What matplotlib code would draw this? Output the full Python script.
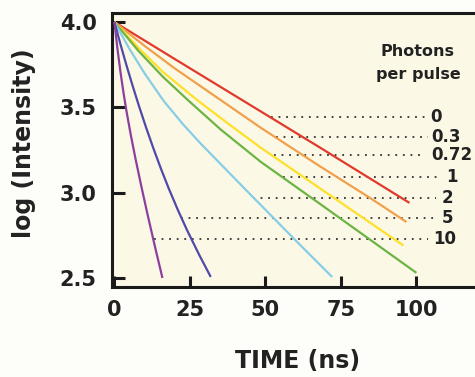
import matplotlib
matplotlib.use("Agg")
import matplotlib.pyplot as plt

# ---- data ----
photons = ["0", "0.3", "0.72", "1", "2", "5", "10"]
colors = ["#e03a2c", "#f0a04a", "#fde02a", "#6cb443", "#86cde6", "#4f4aa8", "#8e3f9e"]

t_0 = [0, 20, 43, 68, 97.7]
y_0 = [4.0, 3.783, 3.535, 3.265, 2.94]
t_03 = [0, 10, 20, 35, 48.5, 68, 85, 96.7]
y_03 = [4.0, 3.86, 3.728, 3.545, 3.38, 3.155, 2.965, 2.828]
t_072 = [0, 8, 16, 27.6, 38, 48.5, 68, 85, 95.7]
y_072 = [4.0, 3.848, 3.708, 3.54, 3.40, 3.263, 3.026, 2.82, 2.69]
t_1 = [0, 8, 16, 24.3, 35.2, 48.5, 68.4, 85, 100]
y_1 = [4.0, 3.83, 3.68, 3.543, 3.37, 3.18, 2.93, 2.72, 2.53]
t_2 = [0, 5, 10, 16.3, 22.6, 28.6, 45.2, 60, 72.1]
y_2 = [4.0, 3.842, 3.699, 3.538, 3.403, 3.287, 2.986, 2.72, 2.506]
t_5 = [0, 2, 4, 6, 8, 10.5, 13, 15.5, 18, 21, 24, 28, 31.9]
y_5 = [4.0, 3.870, 3.746, 3.628, 3.515, 3.381, 3.255, 3.136, 3.024, 2.899,
       2.782, 2.638, 2.506]
t_10 = [0, 1, 2, 3, 4, 5.5, 7, 9, 11, 13.5, 15.9]
y_10 = [4.0, 3.844, 3.708, 3.586, 3.477, 3.331, 3.197, 3.030, 2.870, 2.678, 2.50]

times = [t_0, t_03, t_072, t_1, t_2, t_5, t_10]
logs = [y_0, y_03, y_072, y_1, y_2, y_5, y_10]

# leader lines: level, start time, end time, label x
lead_y = [3.445, 3.328, 3.221, 3.094, 2.969, 2.852, 2.729]
lead_start = [52.0, 53.5, 53.0, 55.8, 45.8, 22.2, 13.0]
lead_end = [103.0, 104.0, 103.0, 108.0, 106.5, 106.5, 104.0]
label_x = [104.5, 105.0, 105.0, 110.0, 108.5, 108.5, 105.5]

xticks = [0, 25, 50, 75, 100]
yticks = [2.5, 3.0, 3.5, 4.0]

# ---- figure ----
fig = plt.figure(figsize=(4.75, 3.77), dpi=100, facecolor="#fdfdf9")
ax = fig.add_axes([112/475, 1-287/377, 1-112/475, (287-13)/377])
ax.set_facecolor("#fcf8e6")

bold = dict(family="DejaVu Sans", weight="bold", color="#222222")

for ly, ls, le, lx, lab in zip(lead_y, lead_start, lead_end, label_x, photons):
    ax.plot([ls, le], [ly, ly], color="#333333", lw=1.3,
            linestyle=(0, (1, 3.2)), zorder=2)
    ax.text(lx, ly, lab, ha="left", va="center", fontsize=12, **bold)

for t, y, c in zip(times, logs, colors):
    ax.plot(t, y, color=c, lw=1.6, solid_capstyle="butt",
            solid_joinstyle="round", zorder=3)

ax.text(100.5, 3.826, "Photons", ha="center", va="center", fontsize=11.5, **bold)
ax.text(100.5, 3.69, "per pulse", ha="center", va="center", fontsize=11.5, **bold)

ax.set_xlim(-0.8, 119.4)
ax.set_ylim(2.447, 4.053)
ax.set_xticks(xticks)
ax.set_xticklabels([str(v) for v in xticks])
ax.set_yticks(yticks)
ax.set_yticklabels([f"{v:.1f}" for v in yticks])

for s in ["left", "bottom", "top"]:
    ax.spines[s].set_linewidth(2.2)
    ax.spines[s].set_color("#1a1a1a")
ax.spines["right"].set_visible(False)

ax.tick_params(axis="both", direction="in", width=2.2, color="#1a1a1a",
               labelsize=15, labelcolor="#222222")
ax.tick_params(axis="y", length=9, pad=11)
ax.tick_params(axis="x", length=8, pad=9)
for lbl in ax.get_xticklabels() + ax.get_yticklabels():
    lbl.set_fontweight("bold")

fig.text(298/475, 1-361/377, "TIME (ns)", ha="center", va="center",
         fontsize=17, **bold)
fig.text(24/475, 1-143/377, "log (Intensity)", ha="center", va="center",
         rotation=90, fontsize=17, **bold)

fig.savefig("out.png", dpi=100, facecolor=fig.get_facecolor())
